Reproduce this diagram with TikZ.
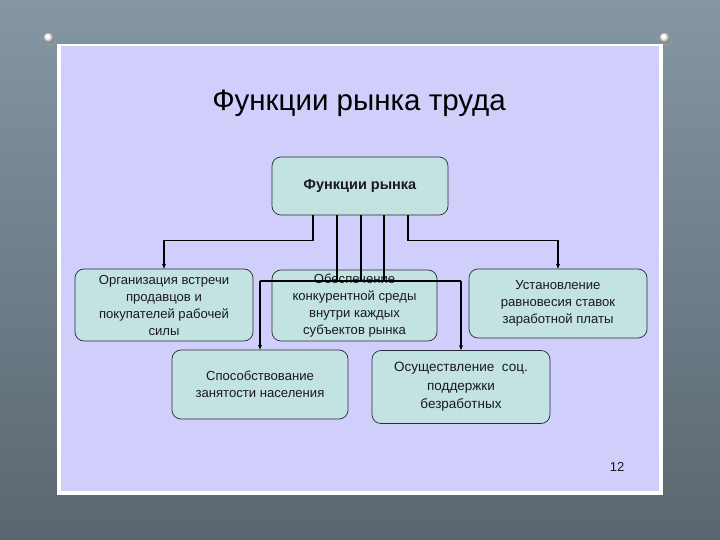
\documentclass[tikz,border=0pt]{standalone}
\usepackage{fontspec}
\setmainfont{Liberation Sans}
\usetikzlibrary{arrows.meta}
\definecolor{bgtop}{HTML}{8497A3}
\definecolor{bgbot}{HTML}{5A6670}
\definecolor{slide}{HTML}{D0CEFA}
\definecolor{boxfill}{HTML}{C3E2E2}
\definecolor{boxline}{HTML}{2A2A3A}
\definecolor{txt}{HTML}{1A1A1A}
\begin{document}
\begin{tikzpicture}[x=1pt,y=-1pt,
  box/.style={draw=boxline, line width=0.7pt, fill=boxfill, rounded corners=9pt,
    align=center, inner sep=0pt, text=txt,
    font=\fontsize{13.1}{17}\selectfont},
  conn/.style={draw=black, line width=1.2pt},
  arr/.style={conn, -{Stealth[length=5pt,width=4pt]}},
  pin/.style={ball color=white}]
\useasboundingbox (0,0) rectangle (720,540);
\shade[top color=bgtop, bottom color=bgbot] (0,0) rectangle (720,540);
% slide
\fill[white] (57,44) rectangle (663,495);
\fill[slide] (61,46) rectangle (659,491);
% pins
\fill[black!40, opacity=0.5] (51,41) circle (5.5);
\shade[pin] (49,38) circle (5.5);
\fill[black!40, opacity=0.5] (667,41) circle (5.5);
\shade[pin] (665,38) circle (5.5);
% title
\node[text=black, font=\fontsize{29.5}{32}\selectfont] (title) at (359,103) {Функции рынка труда};
% boxes
\node[box, minimum width=176pt, minimum height=58pt, font=\fontsize{14.5}{17}\selectfont\bfseries] (top) at (360,186) {Функции рынка};
\node[box, minimum width=178pt, minimum height=72pt] (b1) at (164,305) {Организация встречи\\продавцов и\\покупателей рабочей\\силы};
\node[box, minimum width=165pt, minimum height=71pt] (b2) at (354.5,305.5) {Обеспечение\\конкурентной среды\\внутри каждых\\субъектов рынка};
\node[box, minimum width=178pt, minimum height=69pt] (b3) at (558,303.5) {Установление\\равновесия ставок\\заработной платы};
\node[box, minimum width=176pt, minimum height=69pt] (b4) at (260,384.5) {Способствование\\занятости населения};
\node[box, minimum width=178pt, minimum height=73pt, font=\fontsize{13.5}{18.5}\selectfont] (b5) at (461,387) {Осуществление\ \ соц.\\поддержки\\безработных};
% page number
\node[text=txt, font=\fontsize{13}{15}\selectfont] (pg) at (617,467) {12};
% connectors
\draw[arr] ([xshift=-47pt]top.south) -- ++(0,25) -| (b1.north);
\draw[arr] ([xshift=48pt]top.south) -- ++(0,25) -| (b3.north);
\coordinate (hL) at (260,281);
\coordinate (hR) at (461,281);
\draw[conn] ([xshift=-23pt]top.south) -- ([xshift=-23pt]top.south |- hL);
\draw[conn] ([xshift=1pt]top.south) -- ([xshift=1pt]top.south |- hL);
\draw[conn] ([xshift=24pt]top.south) -- ([xshift=24pt]top.south |- hL);
\draw[conn] (hL) -- (hR);
\draw[arr] (hL) -- (b4.north);
\draw[arr] (hR) -- (b5.north);
\end{tikzpicture}
\end{document}
